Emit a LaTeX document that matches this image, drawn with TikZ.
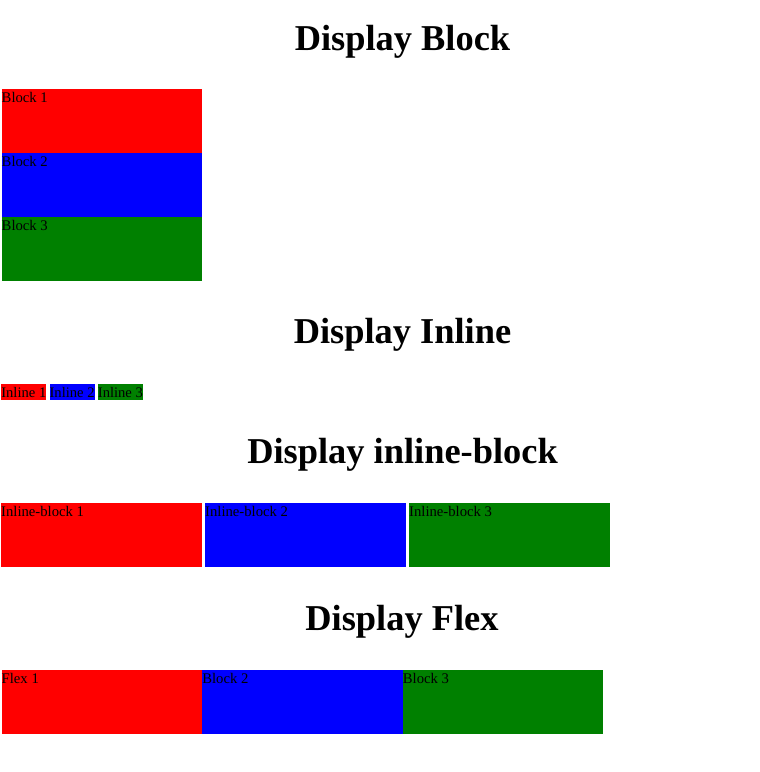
\documentclass[tikz,border=0pt]{standalone}
\usepackage{fontspec}
\setmainfont{Liberation Serif}
\usepackage{xcolor}
\usepackage{tikz}
\usetikzlibrary{positioning}

\definecolor{webred}{RGB}{255,0,0}
\definecolor{webblue}{RGB}{0,0,255}
\definecolor{webgreen}{RGB}{0,128,0}

\begin{document}
\begin{tikzpicture}[
            x=1pt, y=-1pt,
            heading/.style={font=\fontsize{36.4}{40}\selectfont\bfseries, inner sep=0pt, anchor=base},
            box/.style={inner sep=0pt, outer sep=0pt, minimum width=200.6pt, minimum height=64pt, anchor=north west},
            caption/.style={font=\fontsize{14.7}{16}\selectfont, inner sep=0pt, anchor=base west},
            inl/.style={font=\fontsize{14.6}{16}\selectfont, inner sep=0pt, outer sep=0pt, text height=13pt, text depth=3.2pt, anchor=base west}
        ]
            \useasboundingbox[fill=white] (0,0) rectangle (760,772);

            \node[heading] (hblock) at (402.5,50) {Display Block};
            \node[box, fill=webred] (blk1) at (1.5,89) {};
            \node[box, fill=webblue, below=0pt of blk1] (blk2) {};
            \node[box, fill=webgreen, below=0pt of blk2] (blk3) {};
            \node[caption] at ([yshift=-13.6pt]blk1.north west) {Block 1};
            \node[caption] at ([yshift=-13.6pt]blk2.north west) {Block 2};
            \node[caption] at ([yshift=-13.6pt]blk3.north west) {Block 3};

            \node[heading] (hinline) at (402.5,343) {Display Inline};
            \node[inl, fill=webred] (inl1) at (1.3,397) {Inline 1};
            \node[inl, fill=webblue, base right=3.3pt of inl1] (inl2) {Inline 2};
            \node[inl, fill=webgreen, base right=3.3pt of inl2] (inl3) {Inline 3};

            \node[heading] (hinlblock) at (402.5,463) {Display inline-block};
            \node[box, minimum width=201pt, fill=webred] (ib1) at (1,503) {};
            \node[box, minimum width=201pt, fill=webblue, right=3pt of ib1] (ib2) {};
            \node[box, minimum width=201pt, fill=webgreen, right=3pt of ib2] (ib3) {};
            \node[caption] at ([yshift=-13.6pt]ib1.north west) {Inline-block 1};
            \node[caption] at ([yshift=-13.6pt]ib2.north west) {Inline-block 2};
            \node[caption] at ([yshift=-13.6pt]ib3.north west) {Inline-block 3};

            \node[heading] (hflex) at (402,630) {Display Flex};
            \node[box, fill=webred] (fx1) at (1.5,670) {};
            \node[box, fill=webblue, right=0pt of fx1] (fx2) {};
            \node[box, fill=webgreen, right=0pt of fx2] (fx3) {};
            \node[caption] at ([yshift=-13.6pt]fx1.north west) {Flex 1};
            \node[caption] at ([yshift=-13.6pt]fx2.north west) {Block 2};
            \node[caption] at ([yshift=-13.6pt]fx3.north west) {Block 3};
        \end{tikzpicture}
\end{document}
